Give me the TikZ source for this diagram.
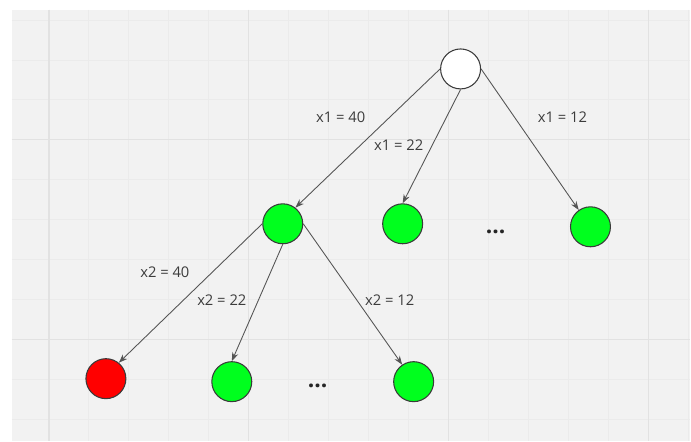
\documentclass[tikz,border=0pt]{standalone}
\usepackage{fontspec}
\setmainfont{Open Sans}
\usetikzlibrary{arrows.meta}

\definecolor{paper}{HTML}{F2F2F2}
\definecolor{minorline}{HTML}{EBEBEB}
\definecolor{majorline}{HTML}{E2E2E2}
\definecolor{ringline}{HTML}{3A3A3A}
\definecolor{edgeline}{HTML}{555555}
\definecolor{labeltext}{HTML}{3C3C3C}
\definecolor{leafgreen}{HTML}{00FF1E}
\definecolor{leafred}{HTML}{FF0000}

\begin{document}
\begin{tikzpicture}[x=0.02cm, y=-0.02cm,
	state/.style={circle, draw=ringline, line width=0.6pt, minimum size=0.8cm, inner sep=0pt},
	good/.style={state, fill=leafgreen},
	bad/.style={state, fill=leafred},
	branch/.style={draw=edgeline, line width=0.5pt, -{Stealth[length=5pt, width=3.6pt]}},
	choice/.style={text=labeltext, font=\fontsize{8.4}{10}\selectfont, inner sep=0pt},
	more/.style={font=\bfseries\fontsize{13}{13}\selectfont, text=black!85, inner sep=0pt}]
	% background with grid
	\fill[white] (0,0) rectangle (691,441);
	\fill[paper] (12,10) rectangle (691,441);
	\foreach \gx in {49,89,...,689} \draw[minorline, line width=0.5pt] (\gx,10) -- (\gx,441);
	\foreach \gy in {20,60,...,420} \draw[minorline, line width=0.5pt] (12,\gy) -- (691,\gy);
	\foreach \gx in {49,249,449,649} \draw[majorline, line width=0.7pt] (\gx,10) -- (\gx,441);
	\foreach \gy in {140,340} \draw[majorline, line width=0.7pt] (12,\gy) -- (691,\gy);
	\useasboundingbox (0,0) rectangle (691,441);

	\node at (461,69) [state, fill=white] (root) {};
	\node at (283,224) [good] (a1) {};
	\node at (403,224) [good] (a2) {};
	\node at (591,227) [good] (a3) {};
	\node at (496,232) [more] (adots) {...};
	\node at (106,379) [bad] (b1) {};
	\node at (232,382) [good] (b2) {};
	\node at (318,386) [more] (bdots) {...};
	\node at (414,382) [good] (b3) {};

	\node at (341,117) [choice] (l1) {x1 = 40};
	\node at (399,145) [choice] (l2) {x1 = 22};
	\node at (563,117) [choice] (l3) {x1 = 12};
	\node at (165,272) [choice] (m1) {x2 = 40};
	\node at (222,300) [choice] (m2) {x2 = 22};
	\node at (390,300) [choice] (m3) {x2 = 12};

	\draw [branch] (root.west) -- (a1.52);
	\draw [branch] (root.south) -- (a2.north);
	\draw [branch] (root.east) -- (a3.125);
	\draw [branch] (a1.west) -- (b1.51);
	\draw [branch] (a1.south) -- (b2.north);
	\draw [branch] (a1.east) -- (b3.124);
\end{tikzpicture}
\end{document}
